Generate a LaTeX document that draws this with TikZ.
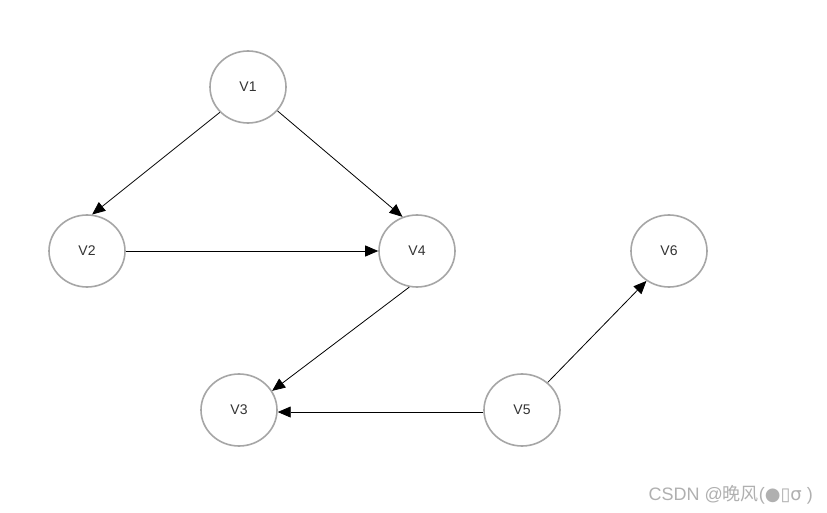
\documentclass[tikz,border=0pt]{standalone}
\usepackage{fontspec}
\setmainfont{Liberation Sans}
\newfontfamily\cjkfont{Noto Sans CJK SC}
\newfontfamily\symfont{DejaVu Sans}
\usetikzlibrary{arrows.meta,shapes.geometric}
\definecolor{ringgray}{HTML}{A6A6A6}
\definecolor{txtgray}{HTML}{333333}
\definecolor{wmgray}{HTML}{B0B0B0}
\begin{document}
\begin{tikzpicture}[x=1pt,y=-1pt,
  vtx/.style={ellipse,draw=ringgray,line width=1.6pt,minimum width=76pt,minimum height=72pt,inner sep=0pt,font=\fontsize{14}{16}\selectfont,text=txtgray},
  edge/.style={draw=black,line width=0.8pt,-{Triangle[length=13pt,width=11pt]}}]
\fill[white] (0,0) rectangle (827,513);
\useasboundingbox (0,0) rectangle (827,513);
\node[vtx] (v1) at (248,87) {V1};
\node[vtx] (v2) at (87,251) {V2};
\node[vtx] (v4) at (417,251) {V4};
\node[vtx] (v3) at (239,410) {V3};
\node[vtx] (v5) at (522,410) {V5};
\node[vtx] (v6) at (669,251) {V6};
\draw[edge] (v1.222) -- (v2.82);
\draw[edge] (v1.321) -- (v4.113);
\draw[edge] (v2) -- (v4);
\draw[edge] (v4.258) -- (v3.30);
\draw[edge] (v5.183) -- (v3.357);
\draw[edge] (v5.47) -- (v6.233);
\node[anchor=base east,text=wmgray,font=\fontsize{18}{20}\selectfont,inner sep=0pt] (wm) at (813,500) {CSDN @{\cjkfont 晚风}({\symfont ●▯σ} )};
\end{tikzpicture}
\end{document}
